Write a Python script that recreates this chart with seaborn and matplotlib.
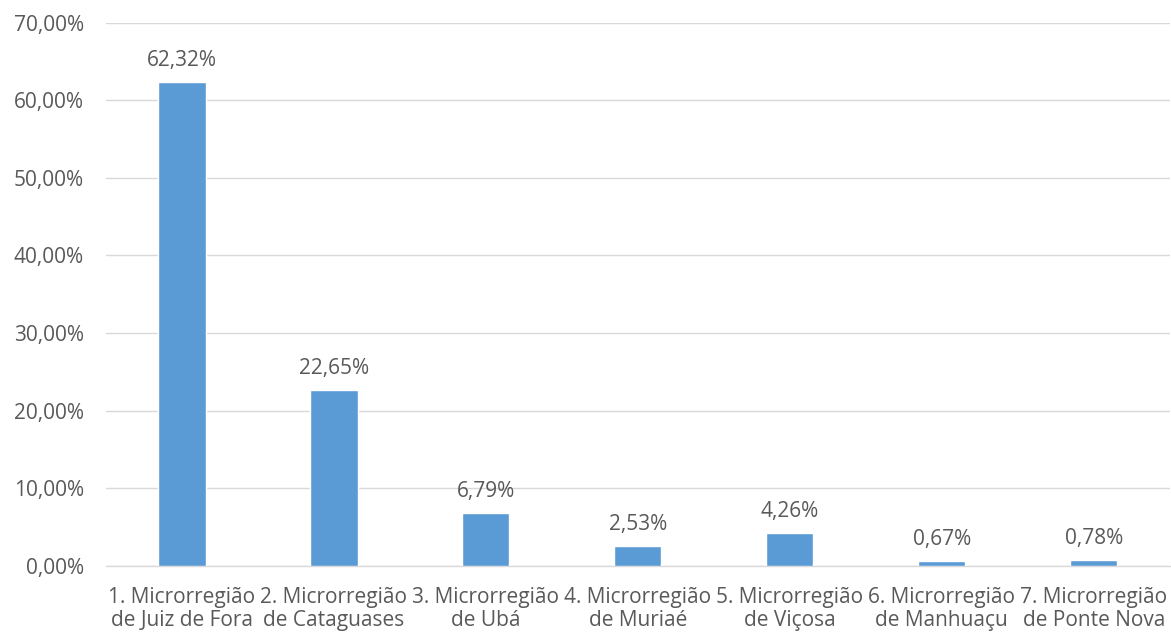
import matplotlib
matplotlib.use("Agg")
import matplotlib.pyplot as plt
from matplotlib.ticker import FuncFormatter, MultipleLocator
import seaborn as sns
import pandas as pd

# Share of records per microregion (percent)
categories = [
    "1. Microrregião\nde Juiz de Fora",
    "2. Microrregião\nde Cataguases",
    "3. Microrregião\nde Ubá",
    "4. Microrregião\nde Muriaé",
    "5. Microrregião\nde Viçosa",
    "6. Microrregião\nde Manhuaçu",
    "7. Microrregião\nde Ponte Nova",
]
values = [62.32, 22.65, 6.79, 2.53, 4.26, 0.67, 0.78]

bar_color = "#5B9BD5"
text_color = "#595959"
grid_color = "#D9D9D9"

sns.set_theme(style="white")
plt.rcParams["font.family"] = ["Open Sans", "DejaVu Sans"]

df = pd.DataFrame({"categoria": categories, "percentual": values})

fig = plt.figure(figsize=(11.71, 6.37), dpi=100)
ax = fig.add_axes([0.0905, 0.1115, 0.9085, 0.853])

sns.barplot(data=df, x="categoria", y="percentual", color=bar_color,
            width=0.31, saturation=1, ax=ax, zorder=3)

def pct(v):
    return f"{v:.2f}".replace(".", ",") + "%"

fs = 15

for patch, v in zip(ax.patches, values):
    ax.annotate(pct(v), (patch.get_x() + patch.get_width() / 2, v),
                xytext=(0, 8), textcoords="offset points",
                ha="center", va="bottom", fontsize=fs, color=text_color)

ax.set_ylim(0, 70)
ax.set_xlim(-0.5, len(categories) - 0.5)
ax.yaxis.set_major_locator(MultipleLocator(10))
ax.yaxis.set_major_formatter(FuncFormatter(lambda v, _: pct(v)))
ax.grid(axis="y", color=grid_color, linewidth=1, zorder=0)
ax.set_axisbelow(True)

for side in ["top", "right", "left"]:
    ax.spines[side].set_visible(False)
ax.spines["bottom"].set_color(grid_color)
ax.spines["bottom"].set_linewidth(1)

ax.tick_params(axis="both", length=0, colors=text_color, labelsize=fs)
ax.tick_params(axis="x", pad=15)
ax.tick_params(axis="y", pad=16)
for lbl in ax.get_xticklabels():
    lbl.set_linespacing(1.15)
ax.set_xlabel("")
ax.set_ylabel("")

fig.savefig("out.png", dpi=100)
